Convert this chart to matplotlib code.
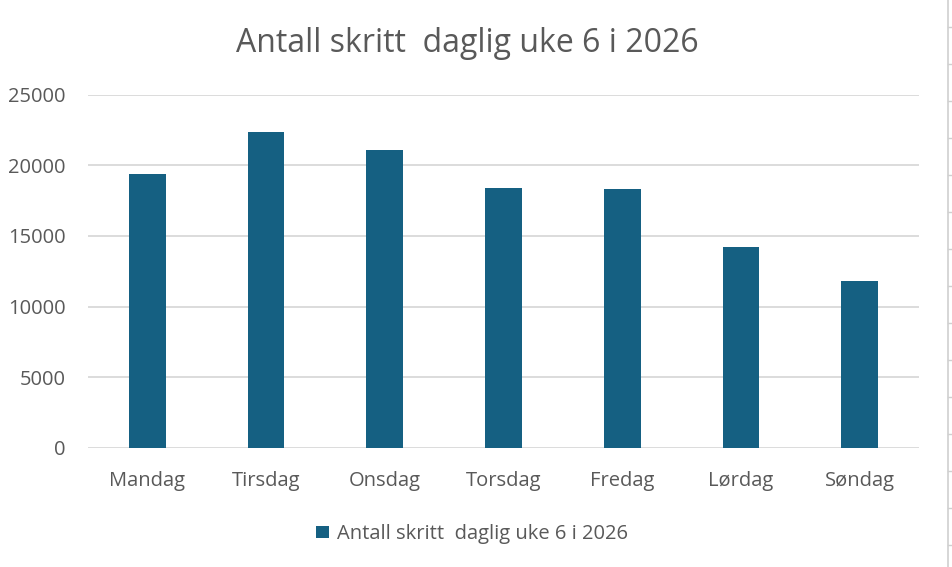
import matplotlib
matplotlib.use("Agg")
import matplotlib.pyplot as plt
from matplotlib.patches import Patch
from matplotlib.lines import Line2D

days = ["Mandag", "Tirsdag", "Onsdag", "Torsdag", "Fredag", "Lørdag", "Søndag"]
steps = [19360, 22380, 21100, 18410, 18340, 14240, 11830]
series_name = "Antall skritt  daglig uke 6 i 2026"
title = "Antall skritt  daglig uke 6 i 2026"
yticks = [0, 5000, 10000, 15000, 20000, 25000]

plt.rcParams['font.family'] = ['Open Sans', 'DejaVu Sans']
text_color = "#595959"
bar_color = "#156082"

fig = plt.figure(figsize=(9.52, 5.67), dpi=100)
ax = fig.add_axes([88/952, 1-447.7/567, (919-88)/952, (447.7-94.7)/567])

x = list(range(len(days)))
ax.bar(x, steps, width=0.31, color=bar_color, zorder=3, label=series_name)
ax.set_xlim(-0.5, len(days)-0.5)
ax.set_ylim(0, 25000)
ax.set_yticks(yticks)
ax.set_yticklabels([str(v) for v in yticks])
ax.set_xticks(x)
ax.set_xticklabels(days)
ax.yaxis.grid(True, color="#d9d9d9", linewidth=1.3, zorder=0)
ax.tick_params(axis='both', length=0, labelsize=14.5, colors=text_color)
ax.tick_params(axis='y', pad=16)
ax.tick_params(axis='x', pad=17)
for s in ax.spines.values():
    s.set_visible(False)

fig.text(467/952, 1-43/567, title, ha='center', va='center', fontsize=23, color=text_color)

handle = Patch(facecolor=bar_color, edgecolor='none')
fig.legend([handle], [series_name], loc='center', bbox_to_anchor=(472/952, 1-534/567),
           frameon=False, fontsize=14.5, labelcolor=text_color, handlelength=0.6,
           handleheight=0.6, handletextpad=0.4)

# sheet edge on the right
fig.add_artist(Line2D([948/952, 948/952], [0, 1], color="#d0d0d0", linewidth=1.2))
for yy in range(27, 567, 37):
    fig.add_artist(Line2D([948/952, 952/952], [1-yy/567, 1-yy/567], color="#d0d0d0", linewidth=1))

fig.savefig("out.png", dpi=100)
